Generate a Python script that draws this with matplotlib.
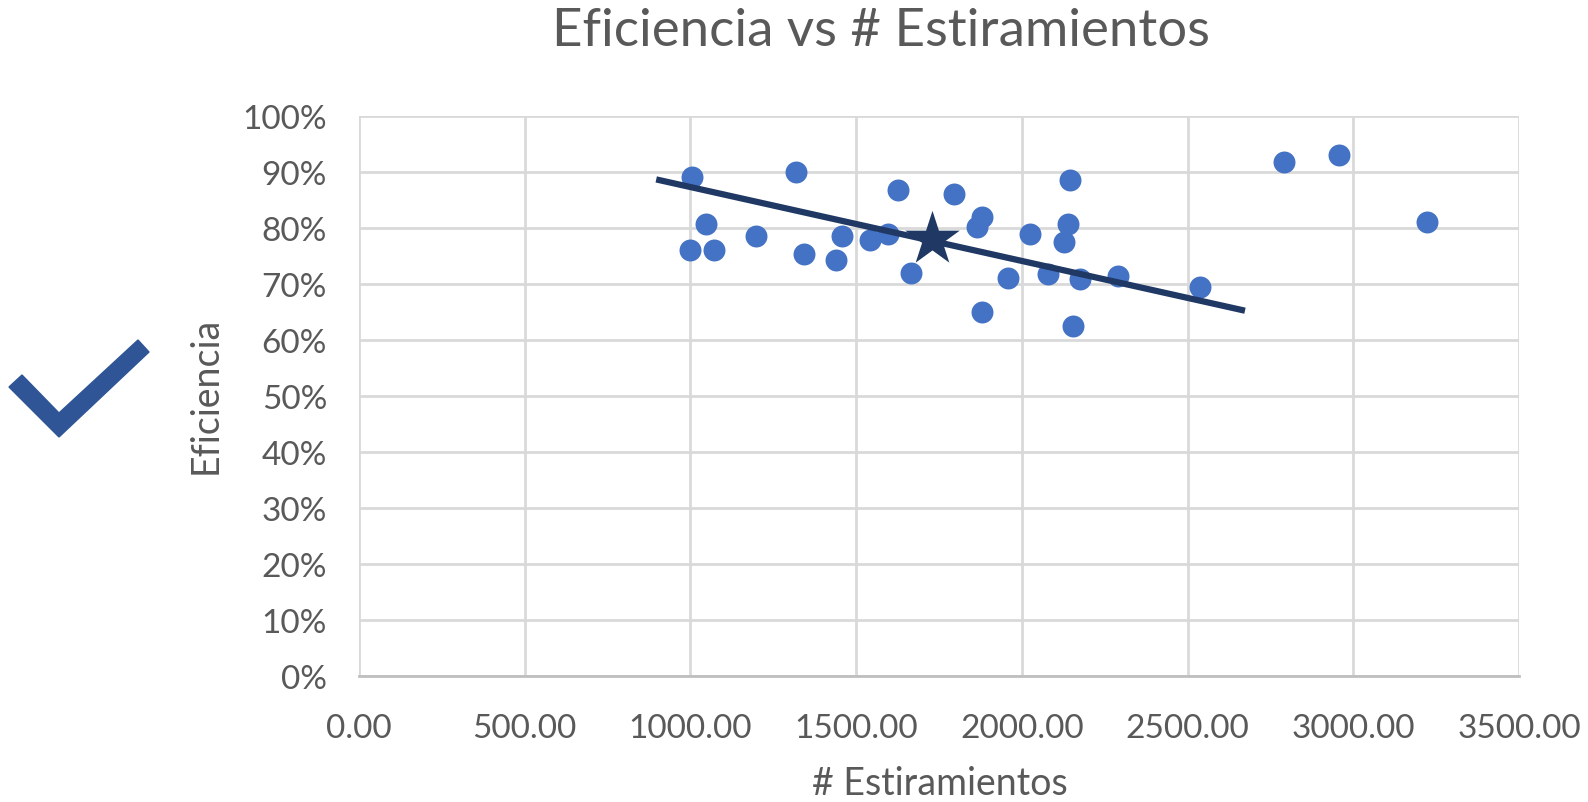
import matplotlib.pyplot as plt
from matplotlib.patches import Polygon
from matplotlib.ticker import FuncFormatter, MultipleLocator
from matplotlib import rcParams

rcParams['font.family'] = ['Lato', 'DejaVu Sans']

# estiramientos vs eficiencia
estiramientos = [1006, 1320, 1048, 999, 1071, 1198, 1343, 1458, 1439, 1542,
                 1597, 1627, 1795, 1665, 1881, 1879, 1866, 2025, 1959, 2080,
                 2145, 2140, 2127, 2176, 2153, 2289, 2538, 2792, 2956, 3221]
eficiencia = [0.891, 0.900, 0.807, 0.761, 0.761, 0.786, 0.753, 0.786, 0.743, 0.778,
              0.789, 0.867, 0.861, 0.720, 0.650, 0.819, 0.802, 0.789, 0.710, 0.717,
              0.885, 0.807, 0.774, 0.708, 0.625, 0.714, 0.694, 0.917, 0.929, 0.810]

# tendencia y punto central
linea_x = [906, 2664]
linea_y = [0.885, 0.653]
centro_x = [1728]
centro_y = [0.780]

W, H = 1588, 803
gris = '#595959'

fig = plt.figure(figsize=(W / 100, H / 100), dpi=100)
ax = fig.add_axes([359 / W, 1 - 676.7 / H, (1519 - 359) / W, 560 / H])

ax.scatter(estiramientos, eficiencia, s=250, color='#4472C4', zorder=3, linewidths=0)
ax.plot(linea_x, linea_y, color='#1F3864', lw=4.5, zorder=4)
ax.scatter(centro_x, centro_y, marker='*', s=1700, color='#1F3864', zorder=5, linewidths=0)

ax.set_xlim(0, 3500)
ax.set_ylim(0, 1.0)
ax.xaxis.set_major_locator(MultipleLocator(500))
ax.yaxis.set_major_locator(MultipleLocator(0.1))
ax.xaxis.set_major_formatter(FuncFormatter(lambda v, p: '%.2f' % v))
ax.yaxis.set_major_formatter(FuncFormatter(lambda v, p: '%d%%' % round(v * 100)))
ax.grid(True, color='#D9D9D9', lw=2)
ax.set_axisbelow(True)
for s in ['top', 'right', 'left']:
    ax.spines[s].set_visible(False)
ax.spines['bottom'].set_color('#BFBFBF')
ax.spines['bottom'].set_linewidth(2)
ax.tick_params(length=0, labelsize=24, labelcolor=gris)
ax.tick_params(axis='y', pad=23)
ax.tick_params(axis='x', pad=27)

fig.text(881 / W, 1 - 31 / H, 'Eficiencia vs # Estiramientos', fontsize=38,
         color=gris, ha='center', va='center')
fig.text(940 / W, 1 - 784 / H, '# Estiramientos', fontsize=27,
         color=gris, ha='center', va='center')
fig.text(206 / W, 1 - 395 / H, 'Eficiencia', fontsize=27, color=gris,
         ha='center', va='center', rotation=90)

# check mark on the left
pts = [(9, 388), (22, 376), (59, 414), (138, 341), (149, 353), (59, 438)]
check = Polygon([(x / W, 1 - y / H) for x, y in pts], closed=True,
                transform=fig.transFigure, color='#2F5597')
fig.patches.append(check)

plt.savefig('out.png')
